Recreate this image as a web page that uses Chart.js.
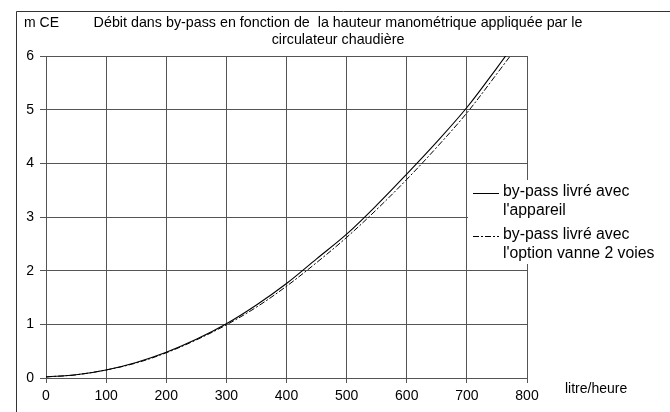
<!DOCTYPE html>
<html>
<head>
<meta charset="utf-8">
<script src="https://cdn.jsdelivr.net/npm/chart.js@4.4.1/dist/chart.umd.min.js"></script>
<style>
  html, body { margin: 0; padding: 0; background: #fff; }
  #wrap { width: 670px; height: 412px; }
</style>
</head>
<body>
<div id="wrap"><canvas id="canvas" width="670" height="412"></canvas></div>
<script>
// data (litre/heure -> m CE)
var DEBIT = [0, 50, 100, 150, 200, 250, 300, 350, 400, 450, 500, 550, 600, 650, 700, 750, 800];
var HAUTEUR_APPAREIL = [0.02, 0.06, 0.15, 0.29, 0.48, 0.72, 1.01, 1.36, 1.76, 2.22, 2.68, 3.22, 3.80, 4.40, 5.04, 5.78, 6.55];
var HAUTEUR_VANNE = [0.02, 0.06, 0.15, 0.28, 0.47, 0.71, 0.99, 1.32, 1.71, 2.15, 2.62, 3.14, 3.70, 4.30, 4.94, 5.67, 6.42];
var X_TICKS = [0, 100, 200, 300, 400, 500, 600, 700, 800];
var Y_TICKS = [0, 1, 2, 3, 4, 5, 6];

var TITLE_LINES = ["Débit dans by-pass en fonction de  la hauteur manométrique appliquée par le", "circulateur chaudière"];
var Y_UNIT = "m CE";
var X_UNIT = "litre/heure";
var LEGEND = [
  { lines: ["by-pass livré avec", "l'appareil"], dash: [] },
  { lines: ["by-pass livré avec", "l'option vanne 2 voies"], dash: [6, 2, 2, 2] }
];

var FONT = "'Liberation Sans', Arial, sans-serif";

function toPoints(xs, ys) {
  var pts = [];
  for (var i = 0; i < xs.length; i++) {
    pts.push({ x: xs[i], y: ys[i] });
  }
  return pts;
}

/* frame, title, units and legend drawn around the plot */
var decorPlugin = {
  id: 'decor',
  beforeDraw: function(chart) {
    var ctx = chart.ctx;
    ctx.save();
    ctx.fillStyle = '#fff';
    ctx.fillRect(0, 0, chart.width, chart.height);
    ctx.strokeStyle = '#333';
    ctx.lineWidth = 1;
    ctx.beginPath();
    ctx.moveTo(16.5, chart.height);
    ctx.lineTo(16.5, 11.5);
    ctx.lineTo(chart.width, 11.5);
    ctx.stroke();
    ctx.restore();
  },
  afterDraw: function(chart) {
    var ctx = chart.ctx;
    ctx.save();
    ctx.fillStyle = '#000';
    ctx.font = "14px " + FONT;
    ctx.textBaseline = 'middle';

    ctx.textAlign = 'left';
    ctx.fillText(Y_UNIT, 24, 23);
    ctx.fillText(X_UNIT, 565, 389);

    ctx.textAlign = 'center';
    ctx.font = "14.3px " + FONT;
    ctx.fillText(TITLE_LINES[0], 338, 23);
    ctx.fillText(TITLE_LINES[1], 338, 40);

    // legend box covers the gridlines behind it
    ctx.fillStyle = '#fff';
    ctx.fillRect(468, 180, chart.width - 468, 84);
    ctx.fillStyle = '#000';
    ctx.strokeStyle = '#000';
    ctx.lineWidth = 1;
    ctx.textAlign = 'left';
    ctx.font = "15.8px " + FONT;
    var tops = [192, 235];
    for (var i = 0; i < LEGEND.length; i++) {
      var y0 = tops[i];
      ctx.setLineDash(LEGEND[i].dash);
      ctx.beginPath();
      ctx.moveTo(473, y0 + 1.5);
      ctx.lineTo(499, y0 + 1.5);
      ctx.stroke();
      ctx.setLineDash([]);
      for (var j = 0; j < LEGEND[i].lines.length; j++) {
        ctx.fillText(LEGEND[i].lines[j], 503, y0 + j * 19);
      }
    }
    ctx.restore();
  }
};

var ctx = document.getElementById('canvas').getContext('2d');
var myChart = new Chart(ctx, {
  type: 'line',
  data: {
    datasets: [{
      label: LEGEND[0].lines.join(' '),
      data: toPoints(DEBIT, HAUTEUR_APPAREIL),
      borderColor: '#000',
      borderWidth: 1.1,
      pointRadius: 0,
      tension: 0.35,
      fill: false
    }, {
      label: LEGEND[1].lines.join(' '),
      data: toPoints(DEBIT, HAUTEUR_VANNE),
      borderColor: '#000',
      borderWidth: 1,
      borderDash: LEGEND[1].dash,
      pointRadius: 0,
      tension: 0.35,
      fill: false
    }]
  },
  options: {
    responsive: false,
    animation: false,
    layout: { padding: { left: 0, right: 143, top: 56, bottom: 0 } },
    plugins: {
      legend: { display: false },
      title: { display: false },
      tooltip: { enabled: false }
    },
    scales: {
      x: {
        type: 'linear',
        min: 0,
        max: 800,
        afterBuildTicks: function(scale) {
          scale.ticks = X_TICKS.map(function(v) { return { value: v }; });
        },
        afterFit: function(scale) { scale.height = 34; },
        grid: { color: '#555', lineWidth: 1, tickLength: 5 },
        border: { color: '#555', width: 1 },
        ticks: { color: '#000', font: { family: FONT, size: 14 }, padding: 5, maxRotation: 0 }
      },
      y: {
        type: 'linear',
        min: 0,
        max: 6,
        afterBuildTicks: function(scale) {
          scale.ticks = Y_TICKS.map(function(v) { return { value: v }; });
        },
        afterFit: function(scale) { scale.width = 46; },
        grid: { color: '#555', lineWidth: 1, tickLength: 6 },
        border: { color: '#555', width: 1 },
        ticks: { color: '#000', font: { family: FONT, size: 14 }, padding: 6 }
      }
    }
  },
  plugins: [decorPlugin]
});
</script>
</body>
</html>
